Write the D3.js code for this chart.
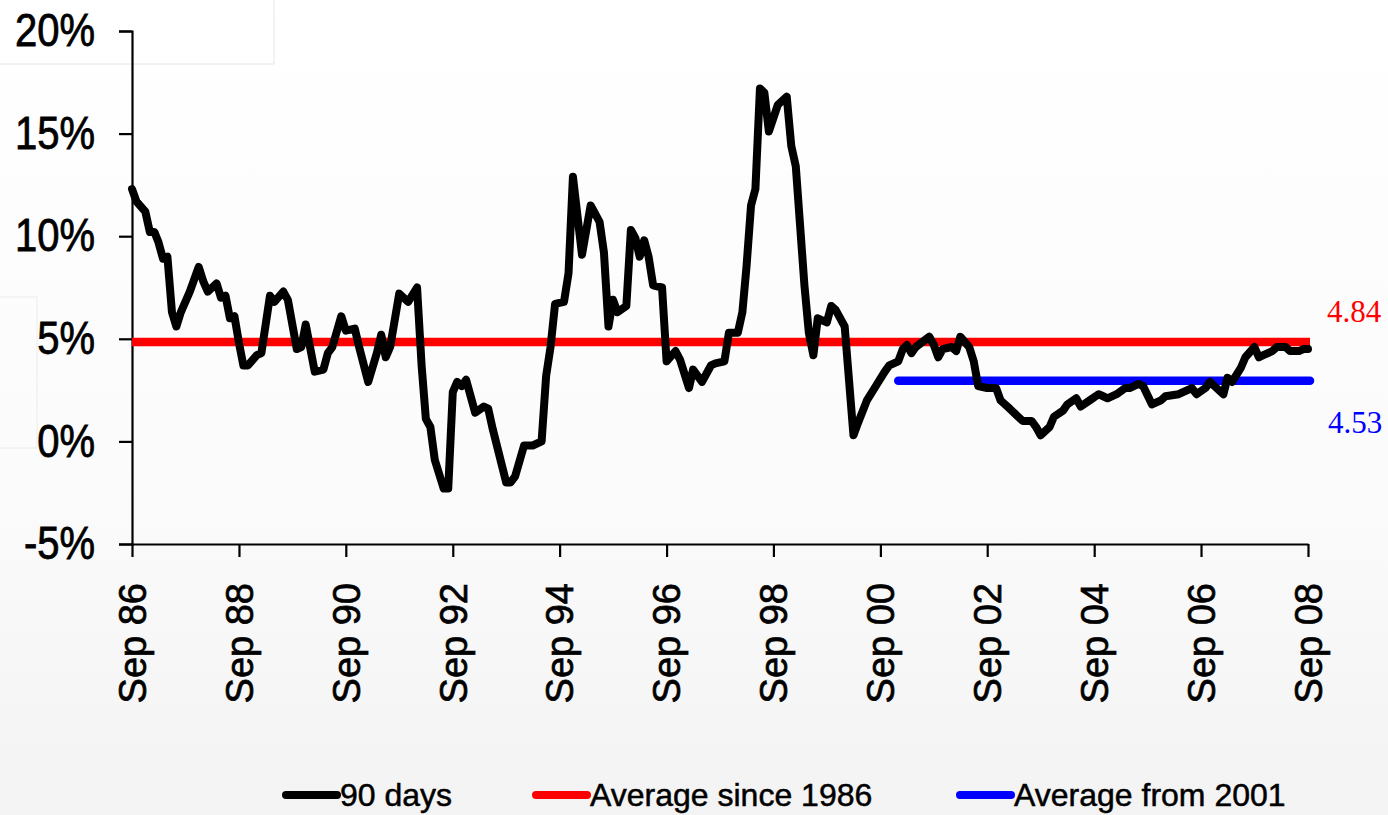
<!DOCTYPE html>
<html><head><meta charset="utf-8">
<script src="https://cdn.jsdelivr.net/npm/d3@7"></script>
<style>html,body{margin:0;padding:0;background:#fff;}svg{display:block;}</style>
</head><body>
<svg id="chart" width="1388" height="815"></svg>
<script>
const dates = ["1986-09","1986-10","1986-12","1987-01","1987-02","1987-03","1987-04","1987-05","1987-06","1987-07","1987-08","1987-10","1987-12",
"1988-01","1988-02","1988-04","1988-05","1988-06","1988-07","1988-08","1988-09","1988-10","1988-11",
"1989-01","1989-02","1989-04","1989-05","1989-07","1989-08","1989-10","1989-11","1989-12",
"1990-02","1990-04","1990-05","1990-06","1990-08","1990-09","1990-11","1990-12",
"1991-02","1991-04","1991-05","1991-06","1991-07","1991-09","1991-11",
"1992-01","1992-02","1992-03","1992-04","1992-05","1992-07","1992-08","1992-09","1992-10","1992-11","1992-12",
"1993-02","1993-04","1993-05","1993-06","1993-09","1993-10","1993-11",
"1994-01","1994-03","1994-05","1994-06","1994-07","1994-08","1994-10","1994-11","1994-12",
"1995-02","1995-04","1995-06","1995-07","1995-08","1995-09","1995-10","1995-12",
"1996-01","1996-02","1996-03","1996-04","1996-05","1996-06","1996-08","1996-09","1996-11","1996-12",
"1997-02","1997-03","1997-05","1997-07","1997-08","1997-10","1997-11",
"1998-01","1998-02","1998-03","1998-04","1998-05","1998-06","1998-07","1998-08","1998-10","1998-12",
"1999-01","1999-02","1999-04","1999-05","1999-06","1999-07","1999-09","1999-10","1999-11",
"2000-01","2000-03","2000-04","2000-06","2000-08","2000-10","2000-11",
"2001-01","2001-02","2001-03","2001-04","2001-05","2001-08","2001-09","2001-10","2001-11",
"2002-01","2002-02","2002-03","2002-05","2002-06","2002-07","2002-09","2002-11","2002-12",
"2003-02","2003-04","2003-05","2003-07","2003-08","2003-09","2003-11","2003-12",
"2004-02","2004-03","2004-05","2004-06","2004-08","2004-10","2004-11","2004-12",
"2005-02","2005-04","2005-05","2005-07","2005-08","2005-10","2005-12",
"2006-01","2006-04","2006-05","2006-07","2006-08","2006-10","2006-11",
"2007-01","2007-02","2007-03","2007-04","2007-06","2007-07","2007-09","2007-10","2007-11",
"2008-01","2008-02","2008-04","2008-05","2008-07","2008-08","2008-09"];
const days90 = [12.3,11.7,11.2,10.2,10.2,9.7,8.9,9.0,6.3,5.6,6.3,7.3,8.5,
7.8,7.3,7.7,7.0,7.1,6.0,6.1,4.8,3.7,3.7,
4.2,4.3,7.1,6.8,7.3,6.9,4.5,4.6,5.7,
3.4,3.5,4.3,4.6,6.1,5.4,5.5,4.6,
2.9,4.3,5.2,4.1,4.6,7.2,6.8,
7.5,3.7,1.1,0.7,-0.9,-2.3,-2.3,2.4,2.9,2.7,3.0,
1.4,1.7,1.6,0.6,-2.0,-2.0,-1.7,
-0.2,-0.2,0.0,3.2,4.6,6.7,6.8,8.2,12.9,
9.1,11.5,10.7,9.2,5.6,6.9,6.3,6.6,
10.3,9.9,9.0,9.8,9.0,7.6,7.5,3.9,4.4,4.0,
2.6,3.5,2.9,3.7,3.8,3.9,5.3,
5.3,6.3,8.5,11.5,12.3,17.2,17.0,15.1,16.4,16.8,
14.4,13.4,7.6,5.3,4.2,6.0,5.8,6.6,6.4,
5.6,0.3,0.9,2.0,2.7,3.4,3.7,
3.9,4.5,4.7,4.3,4.6,5.1,4.7,4.1,4.5,
4.6,4.4,5.1,4.6,3.9,2.7,2.6,2.6,2.0,
1.6,1.2,1.0,1.0,0.7,0.3,0.7,1.2,
1.5,1.8,2.1,1.7,2.0,2.3,2.2,2.1,
2.3,2.6,2.6,2.8,2.7,1.8,2.0,
2.2,2.3,2.4,2.6,2.3,2.6,2.9,
2.5,2.3,3.1,2.9,3.6,4.1,4.6,4.1,4.2,
4.4,4.6,4.6,4.4,4.4,4.5,4.5];
const avgSince1986 = {start:"1986-09", end:"2008-09", value:4.84, label:"4.84"};
const avgFrom2001 = {start:"2001-01", end:"2008-09", value:2.95, label:"4.53"};
const yTicks = [-5,0,5,10,15,20];
const xTickDates = ["1986-09","1988-09","1990-09","1992-09","1994-09","1996-09","1998-09","2000-09","2002-09","2004-09","2006-09","2008-09"];
const seriesNames = ["90 days","Average since 1986","Average from 2001"];
const seriesColors = ["#000000","#ff0000","#0000ff"];

const parse = d3.timeParse("%Y-%m");
const svg = d3.select("#chart");
const W = 1388, H = 815;

// background
const defs = svg.append("defs");
const grad = defs.append("linearGradient").attr("id","bg").attr("x1",0).attr("y1",0).attr("x2",0).attr("y2",1);
grad.append("stop").attr("offset","0%").attr("stop-color","#ffffff");
grad.append("stop").attr("offset","60%").attr("stop-color","#fbfbfb");
grad.append("stop").attr("offset","100%").attr("stop-color","#f3f3f3");
svg.append("rect").attr("width",W).attr("height",H).attr("fill","url(#bg)");
svg.append("rect").attr("x",-1).attr("y",-1).attr("width",275).attr("height",65).attr("fill","#ffffff").attr("stroke","#e6e6e6").attr("stroke-width",1);
svg.append("rect").attr("x",-1).attr("y",297).attr("width",38).attr("height",151).attr("fill","none").attr("stroke","#ececec").attr("stroke-width",1);

const x = d3.scaleTime().domain([parse("1986-09"), parse("2008-09")]).range([132, 1308]);
const y = d3.scaleLinear().domain([-5, 20]).range([544, 31]);

const font = "'Liberation Sans', Arial, sans-serif";

// y axis
const yAxis = svg.append("g").attr("transform","translate(132,0)")
  .call(d3.axisLeft(y).tickValues(yTicks).tickSize(13).tickPadding(24).tickFormat(d => d + "%"));
yAxis.select(".domain").attr("stroke","#000").attr("stroke-width",2.2);
yAxis.selectAll(".tick line").attr("stroke","#000").attr("stroke-width",2.2);
yAxis.selectAll(".tick text").attr("font-family",font).attr("font-size",40).attr("fill","#000")
  .attr("stroke","#000").attr("stroke-width",0.7).attr("transform","scale(1,1.14)");

// x axis
const xAxis = svg.append("g").attr("transform","translate(0,544)")
  .call(d3.axisBottom(x).tickValues(xTickDates.map(parse)).tickSize(13).tickSizeOuter(0).tickFormat(d3.timeFormat("Sep %y")));
xAxis.select(".domain").attr("stroke","#000").attr("stroke-width",2.2);
xAxis.selectAll(".tick line").attr("stroke","#000").attr("stroke-width",2.2);
xAxis.selectAll(".tick text")
  .attr("font-family",font).attr("font-size",38).attr("fill","#000")
  .attr("stroke","#000").attr("stroke-width",0.7)
  .attr("text-anchor","end")
  .attr("transform","rotate(-90)")
  .attr("x",-39).attr("y",0).attr("dy","0.35em");

// average lines
const avgs = [avgSince1986, avgFrom2001];
svg.selectAll(".avg").data(avgs).enter().append("line")
  .attr("x1", d => x(parse(d.start))).attr("x2", d => x(parse(d.end)) + 2)
  .attr("y1", d => y(d.value)).attr("y2", d => y(d.value))
  .attr("stroke", (d,i) => seriesColors[i+1]).attr("stroke-width", 8.5)
  .attr("stroke-linecap", (d,i) => i === 0 ? "butt" : "round");

// main series
const data = dates.map((d,i) => ({date: parse(d), v: days90[i]}));
svg.append("path").datum(data)
  .attr("fill","none").attr("stroke","#000").attr("stroke-width",8)
  .attr("stroke-linejoin","round").attr("stroke-linecap","round")
  .attr("d", d3.line().x(d => x(d.date)).y(d => y(d.v)));

// value labels
svg.append("text").attr("x",1327).attr("y",322).attr("font-family","'Liberation Serif','Times New Roman',serif")
  .attr("font-size",31).attr("fill","#ff0000").text(avgSince1986.label);
svg.append("text").attr("x",1328).attr("y",433).attr("font-family","'Liberation Serif','Times New Roman',serif")
  .attr("font-size",31).attr("fill","#0000ff").text(avgFrom2001.label);

// legend
const legX = [283, 533, 957];
const leg = svg.selectAll(".leg").data(seriesNames).enter().append("g").attr("transform",(d,i)=>`translate(${legX[i]},795)`);
leg.append("line").attr("x1",3).attr("x2",54).attr("y1",0).attr("y2",0)
  .attr("stroke",(d,i)=>seriesColors[i]).attr("stroke-width",8).attr("stroke-linecap","round");
leg.append("text").attr("x",57).attr("y",11).attr("font-family",font).attr("font-size",32).attr("fill","#000")
  .attr("stroke","#000").attr("stroke-width",0.5).text(d=>d);
</script>
</body></html>
